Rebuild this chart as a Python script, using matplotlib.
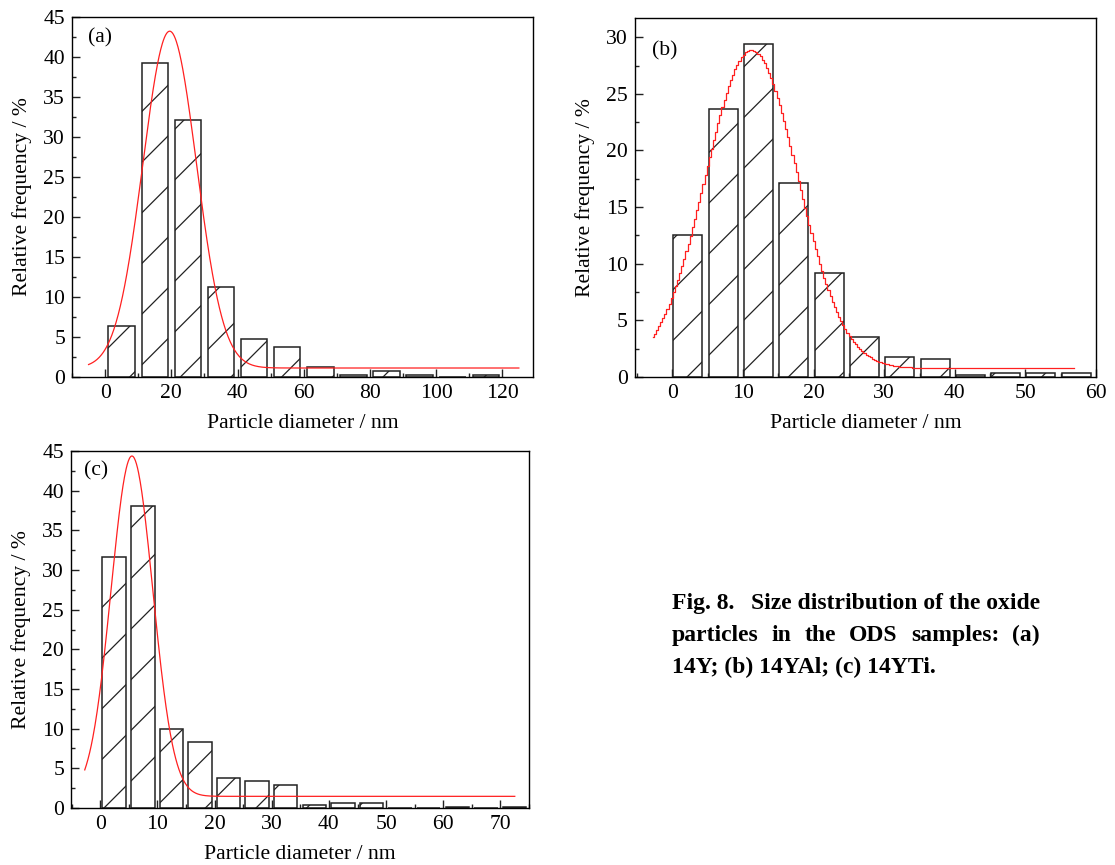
import numpy as np
import matplotlib
matplotlib.use("Agg")
import matplotlib.pyplot as plt
from matplotlib.ticker import MultipleLocator

# hatch spacing follows the dpi, so pick the dpi for the hatch and scale sizes to it
DPI = 152
K = 200 / DPI

plt.rcParams['font.family'] = ['Liberation Serif', 'DejaVu Serif']
plt.rcParams['font.size'] = 7.8 * K
plt.rcParams['hatch.linewidth'] = 0.45 * K
plt.rcParams['axes.linewidth'] = 0.5 * K

# (a) 14Y, bins of 10 nm
bins_a = [0, 10, 20, 30, 40, 50, 60, 70, 80, 90, 100, 110]
freq_a = [6.4, 39.3, 32.1, 11.2, 4.8, 3.7, 1.25, 0.25, 0.8, 0.25, 0.0, 0.25]
fit_a = [1.12, 42.1, 19.5, 8.1]     # baseline, amplitude, centre, sigma
span_a = [-5, 125]

# (b) 14YAl, bins of 5 nm
bins_b = [0, 5, 10, 15, 20, 25, 30, 35, 40, 45, 50, 55]
freq_b = [12.5, 23.7, 29.4, 17.1, 9.2, 3.5, 1.74, 1.56, 0.2, 0.38, 0.38, 0.38]
fit_b = [0.77, 28.1, 11.2, 6.5]
span_b = [-2.8, 57.2]

# (c) 14YTi, bins of 5 nm
bins_c = [0, 5, 10, 15, 20, 25, 30, 35, 40, 45, 50, 55, 60, 65, 70]
freq_c = [31.65, 38.1, 9.9, 8.35, 3.74, 3.36, 2.94, 0.38, 0.59, 0.59, 0.0, 0.0, 0.17, 0.0, 0.17]
fit_c = [1.47, 42.9, 5.55, 3.65]
span_c = [-2.7, 72.5]


def gauss(x, p):
    return p[0] + p[1] * np.exp(-(x - p[2]) ** 2 / (2 * p[3] ** 2))


def panel(rect, bins, freq, off, width, fit, span, xlim, ylim, xmaj, xmin, tag, tagpos, step=False):
    ax = fig.add_axes(rect)
    ax.bar(np.array(bins) + off, freq, width=width, align='edge', color='white',
           edgecolor='#222222', linewidth=0.55 * K, hatch='/', zorder=2)
    if step:
        x = np.arange(span[0], span[1], 0.3)
        ax.plot(x, gauss(x, fit), color='#ff2020', lw=0.45 * K, drawstyle='steps-mid', zorder=3)
    else:
        x = np.linspace(span[0], span[1], 800)
        ax.plot(x, gauss(x, fit), color='#ff2020', lw=0.45 * K, zorder=3)
    ax.set_xlim(xlim)
    ax.set_ylim(ylim)
    ax.xaxis.set_major_locator(MultipleLocator(xmaj))
    ax.xaxis.set_minor_locator(MultipleLocator(xmin))
    ax.yaxis.set_major_locator(MultipleLocator(5))
    ax.yaxis.set_minor_locator(MultipleLocator(2.5))
    ax.tick_params(which='both', direction='in', width=0.5 * K, colors='#222222', labelcolor='black')
    ax.tick_params(which='major', length=2.9 * K, pad=2.5 * K)
    ax.tick_params(which='minor', length=1.6 * K)
    ax.set_xlabel("Particle diameter / nm", labelpad=4 * K)
    ax.set_ylabel("Relative frequency / %", labelpad=4 * K)
    ax.text(tagpos[0], tagpos[1], tag, transform=ax.transAxes, va='top', ha='left')
    return ax


fig = plt.figure(figsize=(1115 / DPI, 865 / DPI), dpi=DPI)

axa = panel([0.0646, 0.5642, 0.4135, 0.4162], bins_a, freq_a, 1.0, 8.0, fit_a, span_a,
            (-10, 129.3), (0, 45), 20, 10, "(a)", (0.035, 0.97))
axb = panel([0.5695, 0.5642, 0.4135, 0.415], bins_b, freq_b, 0.15, 4.1, fit_b, span_b,
            (-5.3, 60), (0, 31.7), 10, 5, "(b)", (0.037, 0.935), step=True)
axc = panel([0.0637, 0.0659, 0.4108, 0.4127], bins_c, freq_c, 0.4, 4.1, fit_c, span_c,
            (-5.1, 75), (0, 45), 10, 5, "(c)", (0.028, 0.97))

# caption, justified like the printed one
cap_kw = dict(fontsize=8.5 * K, fontweight='bold', va='baseline', ha='left')
x0, x1 = 672 / 1115, 1040 / 1115


def justify(words, y):
    texts = [fig.text(0, y, w, **cap_kw) for w in words]
    fig.canvas.draw()
    r = fig.canvas.get_renderer()
    widths = [t.get_window_extent(r).width / fig.bbox.width for t in texts]
    gap = (x1 - x0 - sum(widths)) / (len(words) - 1)
    x = x0
    for t, w in zip(texts, widths):
        t.set_x(x)
        x += w + gap


justify(["Fig. 8.", "Size distribution of the oxide"], 1 - 609 / 865)
justify(["particles", "in", "the", "ODS", "samples:", "(a)"], 1 - 641 / 865)
fig.text(x0, 1 - 673 / 865, "14Y; (b) 14YAl; (c) 14YTi.", **cap_kw)

fig.savefig("out.png", dpi=DPI)
